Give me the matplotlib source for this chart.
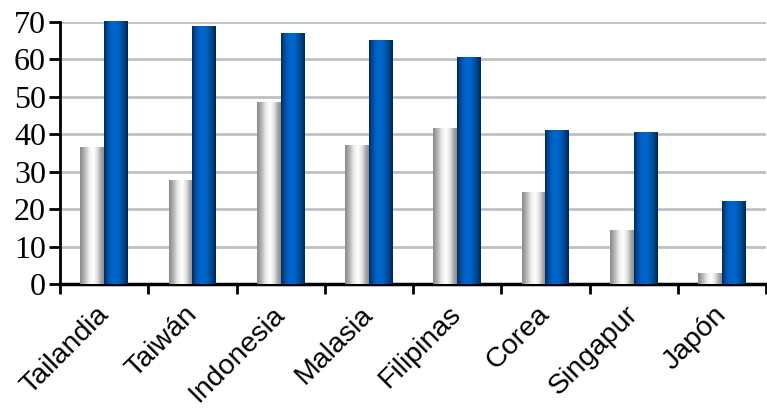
import numpy as np
import matplotlib
matplotlib.use("Agg")
import matplotlib.pyplot as plt
from matplotlib.colors import LinearSegmentedColormap

categories = ["Tailandia", "Taiwán", "Indonesia", "Malasia", "Filipinas", "Corea", "Singapur", "Japón"]
gray_values = [36.6, 27.8, 48.7, 37.2, 41.7, 24.6, 14.4, 2.9]
blue_values = [70.2, 69.0, 67.1, 65.2, 60.7, 41.2, 40.6, 22.2]
y_ticks = [0, 10, 20, 30, 40, 50, 60, 70]

fig = plt.figure(figsize=(7.67, 4.08), dpi=100)
ax = fig.add_axes([60/767, 124/408, 706/767, 262/408])

x = np.arange(len(categories))
w = 0.27
gray_bars = ax.bar(x - w/2, gray_values, width=w, color="#cccccc", zorder=3, linewidth=0)
blue_bars = ax.bar(x + w/2, blue_values, width=w, color="#0060c8", zorder=3, linewidth=0)

gray_cmap = LinearSegmentedColormap.from_list("g", [
    (0.0, (0.53, 0.53, 0.53)), (0.18, (0.70, 0.70, 0.70)), (0.38, (0.93, 0.93, 0.93)),
    (0.55, (1.0, 1.0, 1.0)), (0.72, (0.88, 0.88, 0.88)), (0.88, (0.65, 0.65, 0.65)),
    (1.0, (0.55, 0.55, 0.55))])
blue_cmap = LinearSegmentedColormap.from_list("b", [
    (0.0, (0.0, 0.16, 0.36)), (0.15, (0.0, 0.30, 0.62)), (0.32, (0.0, 0.39, 0.79)),
    (0.55, (0.0, 0.40, 0.80)), (0.78, (0.0, 0.30, 0.60)), (1.0, (0.0, 0.15, 0.33))])

grad = np.linspace(0, 1, 256).reshape(1, -1)
for bars, cmap in ((gray_bars, gray_cmap), (blue_bars, blue_cmap)):
    for b in bars:
        x0, y0 = b.get_x(), b.get_y()
        bw, bh = b.get_width(), b.get_height()
        im = ax.imshow(grad, cmap=cmap, aspect="auto", extent=(x0, x0 + bw, y0, y0 + bh),
                       interpolation="bilinear", zorder=3)
        im.set_clip_path(b)

ax.set_xlim(-0.5, len(categories) - 0.5)
ax.set_ylim(0, 70)
ax.set_yticks(y_ticks)
ax.set_yticklabels([str(v) for v in y_ticks], fontfamily="Liberation Serif", fontsize=23)
ax.yaxis.grid(True, color="#c0c0c0", linewidth=2, zorder=0)
ax.set_axisbelow(True)

ax.set_xticks(np.arange(len(categories) + 1) - 0.5)
ax.set_xticklabels([])
ax.tick_params(axis="x", length=7, width=2, direction="out", color="black")
ax.tick_params(axis="y", length=8, width=2, direction="out", color="black", pad=2)

for i, c in enumerate(categories):
    ax.text(i - 0.1, -4.6, c, rotation=45, rotation_mode="anchor", ha="right", va="top",
            fontfamily="Liberation Sans", fontsize=20.5, transform=ax.transData, clip_on=False)

for s in ("top", "right"):
    ax.spines[s].set_visible(False)
ax.spines["left"].set_linewidth(2)
ax.spines["bottom"].set_linewidth(2.5)

fig.savefig("out.png", dpi=100)
